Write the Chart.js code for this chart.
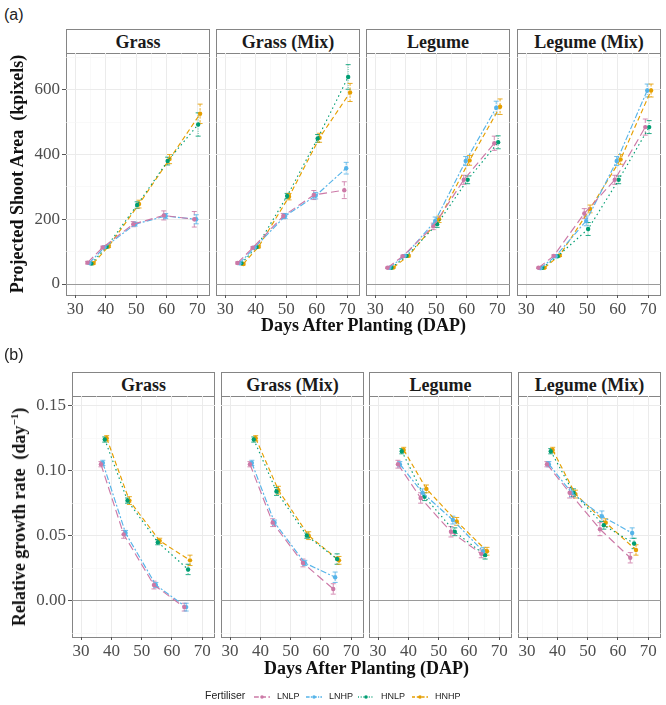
<!DOCTYPE html>
<html>
<head>
<meta charset="utf-8">
<script src="https://cdn.jsdelivr.net/npm/chart.js@4.4.1/dist/chart.umd.min.js"></script>
<style>
  body { margin: 0; background: #fff; }
  #page { position: relative; width: 666px; height: 705px; overflow: hidden; background: #fff; }
  .frame { position: absolute; box-sizing: border-box; border: 1px solid #858585; background: #fff; }
  .strip { position: absolute; left: 0; right: 0; top: 0; height: 24px; box-sizing: border-box;
           border-bottom: 1px solid #858585; font: bold 18px "Liberation Serif", serif; color: #1a1a1a;
           text-align: center; line-height: 24px; }
  .cv { position: absolute; }
  .tag { position: absolute; font: 16px "Liberation Sans", Arial, sans-serif; color: #222; }
  .xtitle { position: absolute; font: bold 18px "Liberation Serif", serif; color: #111; transform: translate(-50%, -50%); white-space: nowrap; }
  .ytitle { position: absolute; font: bold 18px "Liberation Serif", serif; color: #111; transform: translate(-50%, -50%) rotate(-90deg); white-space: nowrap; }
  .leg { position: absolute; font: 9px "Liberation Sans", Arial, sans-serif; color: #222; line-height: 12px; }
</style>
</head>
<body>
<div id="page"></div>
<script>
// ---- data ----
const panels = ['Grass', 'Grass (Mix)', 'Legume', 'Legume (Mix)'];
const fertilisers = ['LNLP', 'LNHP', 'HNLP', 'HNHP'];
const days = [35, 40, 50, 60, 70];          // (a) sampling days
const rgrDays = [37.5, 45, 55, 65];         // (b) interval midpoints

// (a) projected shoot area, kpixels: rows = LNLP, LNHP, HNLP, HNHP
const areaGrass = [
  [66, 113, 185, 212, 200],
  [65, 114, 185, 210, 200],
  [63, 115, 244, 380, 493],
  [64, 116, 247, 386, 526]
];
const areaGrassErr = [[4, 4, 8, 14, 24], [3, 3, 6, 8, 14], [3, 3, 10, 12, 36], [3, 3, 12, 14, 30]];
const areaGrassMix = [
  [65, 112, 210, 275, 290],
  [64, 113, 210, 273, 358],
  [64, 114, 272, 450, 640],
  [62, 115, 270, 452, 592]
];
const areaGrassMixErr = [[3, 3, 8, 14, 26], [3, 3, 8, 10, 18], [3, 3, 8, 12, 38], [3, 3, 10, 14, 28]];
const areaLegume = [
  [50, 86, 178, 322, 435],
  [50, 87, 195, 380, 545],
  [50, 87, 185, 322, 438],
  [51, 87, 200, 382, 548]
];
const areaLegumeErr = [[2, 3, 10, 14, 22], [2, 3, 12, 14, 20], [2, 3, 10, 12, 20], [2, 3, 10, 15, 24]];
const areaLegumeMix = [
  [50, 87, 218, 322, 485],
  [49, 86, 195, 380, 598],
  [50, 86, 170, 322, 485],
  [50, 88, 232, 385, 598]
];
const areaLegumeMixErr = [[2, 3, 15, 14, 25], [2, 3, 15, 14, 20], [2, 3, 20, 12, 20], [2, 3, 12, 15, 20]];

// (b) relative growth rate, day^-1
const rgrGrass = [
  [0.105, 0.051, 0.012, -0.005],
  [0.106, 0.052, 0.012, -0.005],
  [0.124, 0.077, 0.045, 0.024],
  [0.125, 0.077, 0.046, 0.031]
];
const rgrGrassErr = [[0.002, 0.003, 0.003, 0.003], [0.002, 0.002, 0.002, 0.003], [0.002, 0.002, 0.002, 0.004], [0.002, 0.003, 0.002, 0.004]];
const rgrGrassMix = [
  [0.105, 0.060, 0.029, 0.009],
  [0.106, 0.060, 0.029, 0.018],
  [0.124, 0.084, 0.050, 0.032],
  [0.125, 0.085, 0.050, 0.031]
];
const rgrGrassMixErr = [[0.002, 0.003, 0.003, 0.004], [0.002, 0.002, 0.002, 0.004], [0.002, 0.003, 0.002, 0.004], [0.002, 0.003, 0.003, 0.003]];
const rgrLegume = [
  [0.105, 0.079, 0.053, 0.036],
  [0.105, 0.083, 0.062, 0.038],
  [0.115, 0.080, 0.053, 0.035],
  [0.116, 0.086, 0.061, 0.038]
];
const rgrLegumeErr = [[0.003, 0.004, 0.004, 0.003], [0.002, 0.003, 0.003, 0.003], [0.002, 0.003, 0.003, 0.003], [0.002, 0.003, 0.003, 0.003]];
const rgrLegumeMix = [
  [0.105, 0.083, 0.055, 0.033],
  [0.105, 0.083, 0.065, 0.052],
  [0.115, 0.083, 0.058, 0.044],
  [0.116, 0.082, 0.060, 0.039]
];
const rgrLegumeMixErr = [[0.002, 0.004, 0.005, 0.004], [0.002, 0.003, 0.004, 0.004], [0.002, 0.003, 0.003, 0.004], [0.002, 0.003, 0.003, 0.004]];

const xTicks = [30, 40, 50, 60, 70];
const xMinor = [35, 45, 55, 65];
const areaTicks = [0, 200, 400, 600];
const areaMinor = [100, 300, 500, 700];
const rgrTicks = [0, 0.05, 0.10, 0.15];
const rgrMinor = [-0.025, 0.025, 0.075, 0.125];

// ---- styling ----
const colors = ['#CC79A7', '#56B4E9', '#009E73', '#E69F00'];
const dashes = [[8, 4], [6, 2, 2, 2], [1.5, 3], [5, 3]];
const dodge = [-0.95, -0.32, 0.32, 0.95];

const page = document.getElementById('page');

function addDiv(cls, style, html) {
  const d = document.createElement('div');
  d.className = cls;
  Object.assign(d.style, style);
  if (html !== undefined) d.innerHTML = html;
  page.appendChild(d);
  return d;
}

// error bars drawn through the chart's own scales
const errorBars = {
  id: 'errorBars',
  beforeDatasetsDraw(chart) {
    const { ctx, scales } = chart;
    chart.data.datasets.forEach(ds => {
      ctx.save();
      ctx.strokeStyle = ds.borderColor;
      ctx.globalAlpha = 0.85;
      ctx.lineWidth = 1;
      ds.data.forEach((p, i) => {
        const e = ds.err[i];
        const px = scales.x.getPixelForValue(p.x);
        const t = scales.y.getPixelForValue(p.y + e);
        const b = scales.y.getPixelForValue(p.y - e);
        ctx.setLineDash(ds.borderDash.map(v => v * 0.5));
        ctx.beginPath();
        ctx.moveTo(px, t); ctx.lineTo(px, b);
        ctx.stroke();
        ctx.setLineDash([]);
        ctx.beginPath();
        ctx.moveTo(px - 2.5, t); ctx.lineTo(px + 2.5, t);
        ctx.moveTo(px - 2.5, b); ctx.lineTo(px + 2.5, b);
        ctx.stroke();
      });
      ctx.restore();
    });
  }
};

const rows = [
  {
    tag: '(a)', tagTop: 6, stripTop: 29, plotTop: 53, plotBottom: 295,
    lefts: [66, 216, 366, 517], width: 144, yAxisW: 40,
    yMin: -34, yMax: 714, majors: areaTicks, minors: areaMinor, fmt: v => String(v),
    xs: days, means: [areaGrass, areaGrassMix, areaLegume, areaLegumeMix],
    errs: [areaGrassErr, areaGrassMixErr, areaLegumeErr, areaLegumeMixErr],
    ytitle: 'Projected Shoot Area&nbsp;&nbsp;(kpixels)', ytitleX: 17,
    xtitleY: 325
  },
  {
    tag: '(b)', tagTop: 346, stripTop: 372, plotTop: 396, plotBottom: 637,
    lefts: [72, 221, 369, 518], width: 143, yAxisW: 44,
    yMin: -0.028, yMax: 0.1575, majors: rgrTicks, minors: rgrMinor, fmt: v => v.toFixed(2),
    xs: rgrDays, means: [rgrGrass, rgrGrassMix, rgrLegume, rgrLegumeMix],
    errs: [rgrGrassErr, rgrGrassMixErr, rgrLegumeErr, rgrLegumeMixErr],
    ytitle: 'Relative growth rate&nbsp;&nbsp;(day<sup style="font-size:11px">&minus;1</sup>)', ytitleX: 19,
    xtitleY: 668
  }
];

const XH = 28;

rows.forEach(row => {
  addDiv('tag', { left: '4px', top: row.tagTop + 'px' }, row.tag);

  // panel frames and strips
  row.lefts.forEach((L, p) => {
    const f = addDiv('frame', {
      left: L + 'px', top: row.stripTop + 'px',
      width: row.width + 'px', height: (row.plotBottom - row.stripTop + 1) + 'px'
    });
    const s = document.createElement('div');
    s.className = 'strip';
    s.textContent = panels[p];
    f.appendChild(s);
  });

  // charts
  row.lefts.forEach((L, p) => {
    const first = p === 0;
    const W = row.yAxisW + row.width;
    const H = row.plotBottom - row.plotTop + XH;
    const holder = addDiv('cv', { left: (L - row.yAxisW) + 'px', top: row.plotTop + 'px', width: W + 'px', height: H + 'px' });
    const canvas = document.createElement('canvas');
    canvas.width = W; canvas.height = H;
    canvas.style.width = W + 'px'; canvas.style.height = H + 'px';
    holder.appendChild(canvas);

    const datasets = fertilisers.map((f, s) => ({
      label: f,
      data: row.xs.map((d, i) => ({ x: d + dodge[s], y: row.means[p][s][i] })),
      err: row.errs[p][s],
      borderColor: colors[s],
      backgroundColor: colors[s],
      borderDash: dashes[s],
      borderWidth: 1.15,
      pointRadius: 2.2,
      pointBorderWidth: 0,
      pointBackgroundColor: colors[s],
      tension: 0
    }));

    const yTickList = row.majors.map(v => ({ value: v })).concat(row.minors.map(v => ({ value: v, minor: true })))
      .sort((a, b) => a.value - b.value);
    const xTickList = xTicks.map(v => ({ value: v })).concat(xMinor.map(v => ({ value: v, minor: true })))
      .sort((a, b) => a.value - b.value);

    new Chart(canvas, {
      type: 'line',
      data: { datasets },
      plugins: [errorBars],
      options: {
        responsive: false,
        animation: false,
        devicePixelRatio: 1,
        layout: { padding: 0, autoPadding: false },
        plugins: { legend: { display: false }, tooltip: { enabled: false } },
        scales: {
          x: {
            type: 'linear', min: 27, max: 74.2,
            afterBuildTicks: sc => { sc.ticks = xTickList.map(t => Object.assign({}, t)); },
            afterFit: sc => { sc.height = XH; sc.paddingLeft = 0; sc.paddingRight = 0; },
            border: { display: false },
            grid: {
              color: c => (c.tick && c.tick.minor) ? '#f5f5f5' : '#ebebeb',
              lineWidth: c => (c.tick && c.tick.minor) ? 0.6 : 1,
              tickColor: c => (c.tick && c.tick.minor) ? 'rgba(0,0,0,0)' : '#555',
              tickLength: 3
            },
            ticks: {
              autoSkip: false, maxRotation: 0, padding: 1, color: '#4d4d4d',
              font: { family: '"Liberation Serif", serif', size: 17 },
              callback: (v, i, ts) => ts[i].minor ? '' : String(v)
            }
          },
          y: {
            type: 'linear', min: row.yMin, max: row.yMax,
            afterBuildTicks: sc => { sc.ticks = yTickList.map(t => Object.assign({}, t)); },
            afterFit: sc => { sc.width = row.yAxisW; sc.paddingTop = 0; sc.paddingBottom = 0; },
            border: { display: false },
            grid: {
              color: c => {
                if (!c.tick) return '#ebebeb';
                if (Math.abs(c.tick.value) < 1e-9) return '#9a9a9a';
                return c.tick.minor ? '#f5f5f5' : '#ebebeb';
              },
              lineWidth: c => (c.tick && c.tick.minor) ? 0.6 : 1,
              drawTicks: first,
              tickColor: c => (c.tick && c.tick.minor) ? 'rgba(0,0,0,0)' : '#555',
              tickLength: 4
            },
            ticks: {
              display: first, autoSkip: false, padding: 2, color: '#4d4d4d',
              font: { family: '"Liberation Serif", serif', size: 17 },
              callback: (v, i, ts) => ts[i].minor ? '' : row.fmt(v)
            }
          }
        }
      }
    });
  });

  // axis titles
  const left = row.lefts[0], right = row.lefts[3] + row.width;
  addDiv('xtitle', { left: ((left + right) / 2) + 'px', top: row.xtitleY + 'px' }, 'Days After Planting (DAP)');
  addDiv('ytitle', { left: row.ytitleX + 'px', top: ((row.plotTop + row.plotBottom) / 2) + 'px' }, row.ytitle);
});

// legend
addDiv('leg', { left: '205px', top: '689px', fontSize: '10.5px' }, 'Fertiliser');
const legX = [254, 306, 358, 412];
fertilisers.forEach((f, s) => {
  const svg = '<svg width="16" height="8" style="vertical-align:middle"><line x1="0" y1="4" x2="16" y2="4" stroke="' + colors[s] +
    '" stroke-width="1.3" stroke-dasharray="' + dashes[s].map(v => v * 0.6).join(',') + '"/><circle cx="8" cy="4" r="1.8" fill="' + colors[s] + '"/></svg>';
  addDiv('leg', { left: legX[s] + 'px', top: '690px' }, svg + '<span style="margin-left:7px">' + f + '</span>');
});
</script>
</body>
</html>
